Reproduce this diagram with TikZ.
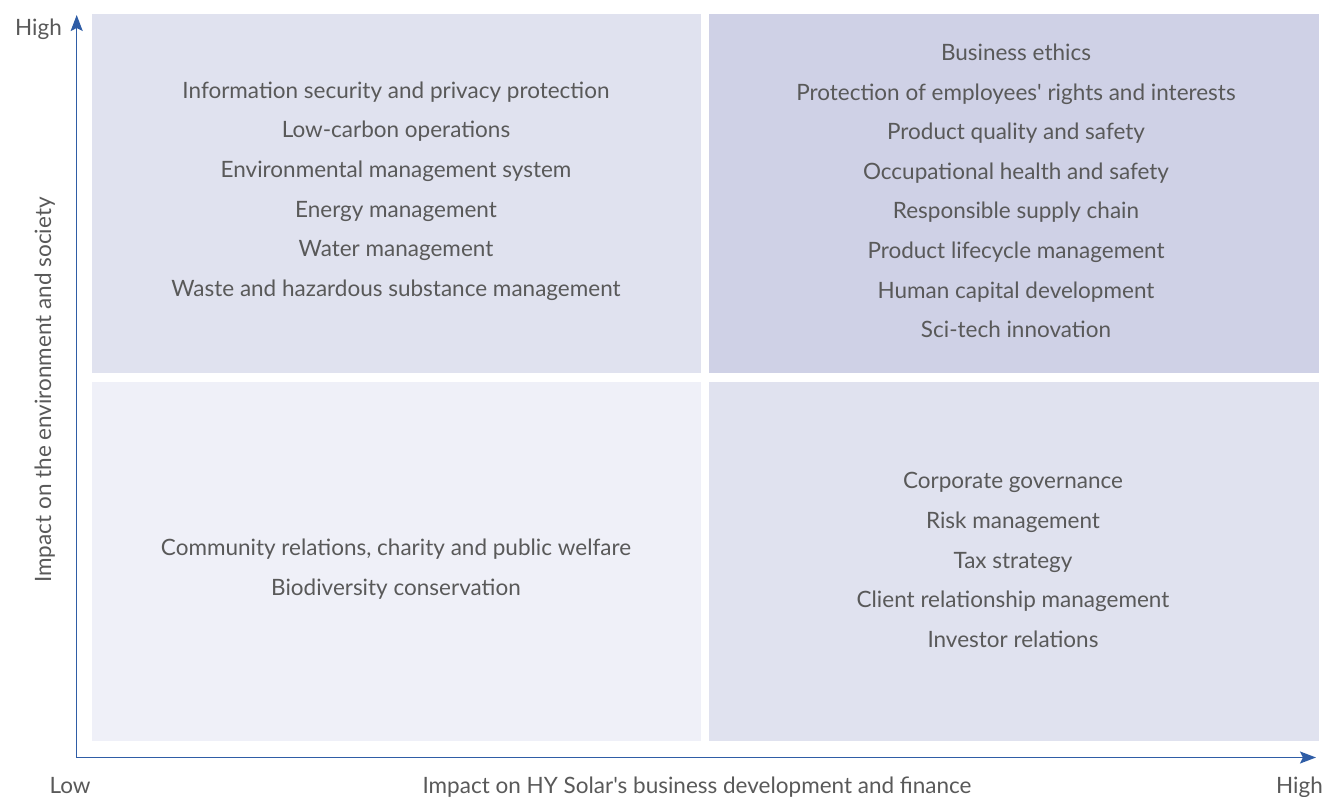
\documentclass[tikz,border=0pt]{standalone}
\usepackage{fontspec}
\setmainfont{Lato}[Ligatures=TeXOff]
\usetikzlibrary{arrows.meta}
\definecolor{txt}{HTML}{595959}
\definecolor{axis}{HTML}{2F5DA6}
\definecolor{qa}{HTML}{E0E2EF}
\definecolor{qb}{HTML}{CFD1E6}
\definecolor{qc}{HTML}{EFF0F8}
\tikzset{
  itemlist/.style={align=center,text=txt,font=\fontsize{22.5}{39.6}\selectfont,inner sep=0pt},
  axislabel/.style={text=txt,font=\fontsize{22.5}{27}\selectfont,inner sep=0pt},
  axisline/.style={draw=axis,line width=1.5pt,-{Stealth[length=16pt,width=12pt,inset=3pt]}}
}
\begin{document}
\begin{tikzpicture}[x=1pt,y=-1pt]
\useasboundingbox (0,0) rectangle (1326,797);
\fill[qa] (92,14) rectangle (701,372.5);
\fill[qb] (709,14) rectangle (1319,372.5);
\fill[qc] (92,382) rectangle (701,741);
\fill[qa] (709,382) rectangle (1319,741);
\coordinate (o) at (76.7,757.5);
\coordinate (ytop) at (76.7,15);
\coordinate (xend) at (1316,757.5);
\draw[axisline] (o) -- (ytop);
\draw[axisline] (o) -- (xend);
\node[itemlist] (tl) at (396,191) {Information security and privacy protection\\Low-carbon operations\\Environmental management system\\Energy management\\Water management\\Waste and hazardous substance management};
\node[itemlist] (tr) at (1016,191) {Business ethics\\Protection of employees' rights and interests\\Product quality and safety\\Occupational health and safety\\Responsible supply chain\\Product lifecycle management\\Human capital development\\Sci-tech innovation};
\node[itemlist] (bl) at (396,569) {Community relations, charity and public welfare\\Biodiversity conservation};
\node[itemlist] (br) at (1013,560) {Corporate governance\\Risk management\\Tax strategy\\Client relationship management\\Investor relations};
\node[axislabel,anchor=base east] (yhigh) at (62,36) {High};
\node[axislabel,anchor=base] (xlow) at (70,793) {Low};
\node[axislabel,anchor=base east] (xhigh) at (1323,793) {High};
\node[axislabel,anchor=base] (xlab) at (697,793) {Impact on HY Solar's business development and finance};
\node[axislabel,rotate=90,anchor=base] (ylab) at (51,390) {Impact on the environment and society};
\end{tikzpicture}
\end{document}
